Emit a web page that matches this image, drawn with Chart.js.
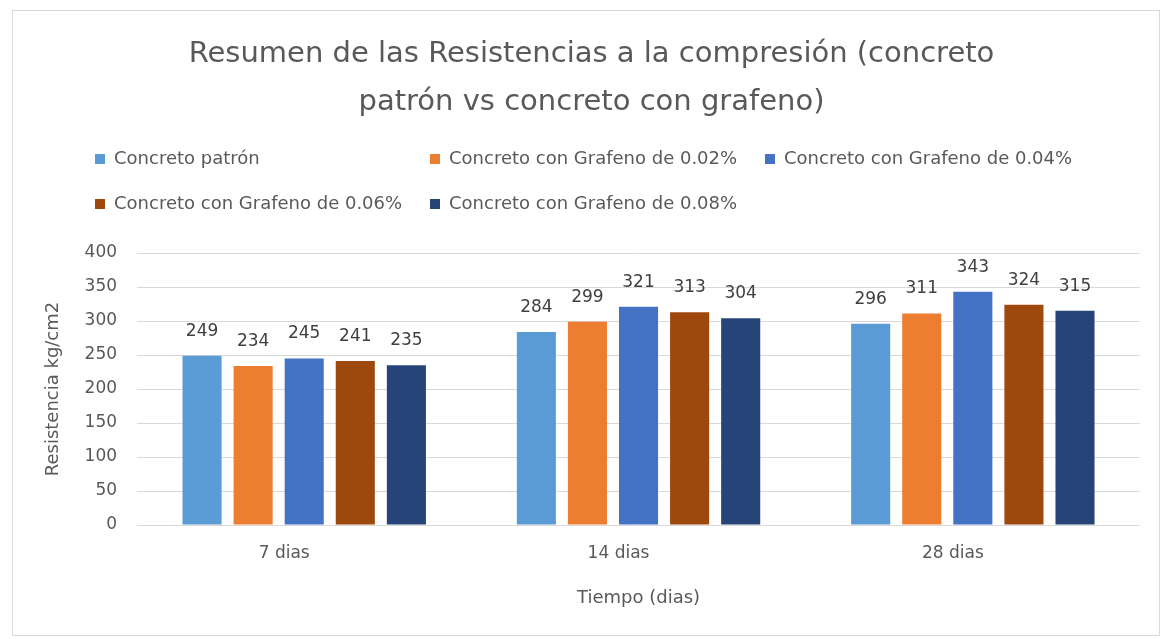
<!DOCTYPE html>
<html>
<head>
<meta charset="utf-8">
<script src="https://cdn.jsdelivr.net/npm/chart.js@4"></script>
<style>
  body { margin: 0; background: #ffffff; }
  #cadre {
    position: absolute; left: 12px; top: 10px;
    width: 1148px; height: 626px;
    border: 1px solid #d9d9d9; box-sizing: border-box;
  }
</style>
</head>
<body>
<div id="cadre"><canvas id="grafico"></canvas></div>
<script>
// Données
const categorias = ['7 dias', '14 dias', '28 dias'];
const patron = [249, 284, 296];
const grafeno002 = [234, 299, 311];
const grafeno004 = [245, 321, 343];
const grafeno006 = [241, 313, 324];
const grafeno008 = [235, 304, 315];
const nombres = ['Concreto patrón', 'Concreto con Grafeno de 0.02%', 'Concreto con Grafeno de 0.04%',
                 'Concreto con Grafeno de 0.06%', 'Concreto con Grafeno de 0.08%'];
const colores = ['#5B9BD5', '#ED7D31', '#4472C4', '#9E480E', '#264478'];

const fuente = '"DejaVu Sans", sans-serif';
const series = [patron, grafeno002, grafeno004, grafeno006, grafeno008];

// Etiquettes de valeur au-dessus des barres
const etiquetas = {
    id: 'etiquetas',
    afterDatasetsDraw(chart) {
        const ctx = chart.ctx;
        ctx.save();
        ctx.font = '17px ' + fuente;
        ctx.fillStyle = '#404040';
        ctx.textAlign = 'center';
        ctx.textBaseline = 'bottom';
        chart.data.datasets.forEach((ds, i) => {
            chart.getDatasetMeta(i).data.forEach((bar, j) => {
                ctx.fillText(ds.data[j], bar.x, bar.y - 16);
            });
        });
        ctx.restore();
    }
};

// Légende façon Excel, en colonnes
const leyenda = {
    id: 'leyenda',
    afterDraw(chart) {
        const ctx = chart.ctx;
        ctx.save();
        ctx.font = '18px ' + fuente;
        ctx.textBaseline = 'middle';
        chart.data.datasets.forEach((ds, i) => {
            let col = i % 3, fila = Math.floor(i / 3);
            let x = 82 + col * 335;
            let y = 148 + fila * 45;
            ctx.fillStyle = ds.backgroundColor;
            ctx.fillRect(x, y - 5, 10, 10);
            ctx.fillStyle = '#595959';
            ctx.fillText(ds.label, x + 19, y);
        });
        ctx.restore();
    }
};

new Chart(document.getElementById('grafico'), {
    type: 'bar',
    data: {
        labels: categorias,
        datasets: series.map((d, i) => ({
            label: nombres[i],
            data: d,
            backgroundColor: colores[i],
            barPercentage: 0.765,
            categoryPercentage: 0.764
        }))
    },
    options: {
        responsive: true,
        maintainAspectRatio: false,
        animation: false,
        layout: { padding: { top: 19, left: 30, right: 19, bottom: 22 } },
        plugins: {
            legend: { display: false },
            tooltip: { enabled: false },
            title: {
                display: true,
                text: ['Resumen de las Resistencias a la compresión (concreto', 'patrón vs concreto con grafeno)'],
                font: { family: fuente, size: 29, weight: 'normal', lineHeight: '48px' },
                color: '#595959',
                padding: { top: 0, bottom: 127 }
            }
        },
        scales: {
            x: {
                grid: { display: false },
                border: { display: false },
                ticks: { font: { family: fuente, size: 17 }, color: '#595959', labelOffset: -20, padding: 10 },
                title: { display: true, text: 'Tiempo (dias)', font: { family: fuente, size: 18 }, color: '#595959', padding: { top: 14 } }
            },
            y: {
                min: 0, max: 400,
                ticks: { stepSize: 50, font: { family: fuente, size: 17 }, color: '#595959', padding: 20 },
                grid: { color: '#d9d9d9', drawTicks: false },
                border: { display: false },
                title: { display: true, text: 'Resistencia kg/cm2', font: { family: fuente, size: 18 }, color: '#595959', padding: 0 }
            }
        }
    },
    plugins: [etiquetas, leyenda]
});
</script>
</body>
</html>
